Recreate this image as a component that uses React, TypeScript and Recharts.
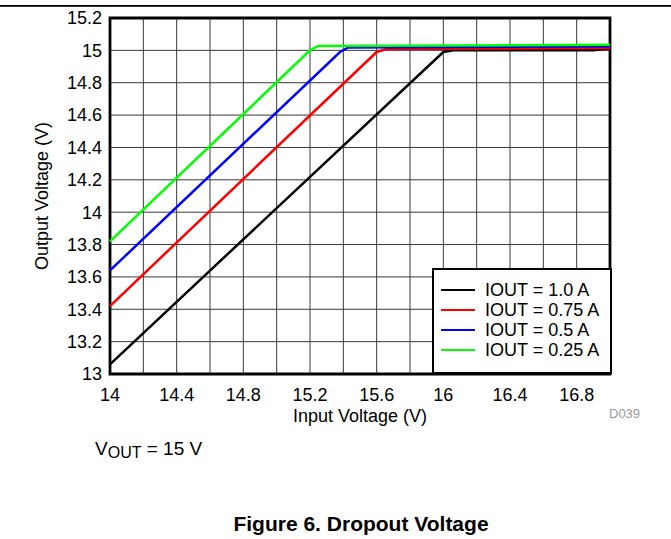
import { LineChart, Line, XAxis, YAxis, CartesianGrid, Legend, ReferenceArea, Label } from 'recharts'

const xTicks = [14, 14.2, 14.4, 14.6, 14.8, 15, 15.2, 15.4, 15.6, 15.8, 16, 16.2, 16.4, 16.6, 16.8, 17]
const xLabels = [14, 14.4, 14.8, 15.2, 15.6, 16, 16.4, 16.8]
const yTicks = [13, 13.2, 13.4, 13.6, 13.8, 14, 14.2, 14.4, 14.6, 14.8, 15, 15.2]

// input voltage (x) vs output voltage (y)
const iout100 = [
  { x: 14, y: 13.06 },
  { x: 16.0, y: 14.99 },
  { x: 16.06, y: 15.0 },
  { x: 16.9, y: 15.0 },
  { x: 17, y: 15.012 },
]
const iout075 = [
  { x: 14, y: 13.42 },
  { x: 15.6, y: 14.99 },
  { x: 15.66, y: 15.008 },
  { x: 17, y: 15.015 },
]
const iout050 = [
  { x: 14, y: 13.64 },
  { x: 15.38, y: 14.99 },
  { x: 15.43, y: 15.018 },
  { x: 17, y: 15.025 },
]
const iout025 = [
  { x: 14, y: 13.82 },
  { x: 15.2, y: 15.0 },
  { x: 15.25, y: 15.027 },
  { x: 17, y: 15.035 },
]

const series = [
  { name: 'IOUT = 1.0 A', color: '#000000', data: iout100 },
  { name: 'IOUT = 0.75 A', color: '#ff0000', data: iout075 },
  { name: 'IOUT = 0.5 A', color: '#0000ff', data: iout050 },
  { name: 'IOUT = 0.25 A', color: '#00ff00', data: iout025 },
]
const seriesOrder = series.map((s) => s.name)

const font = '"Liberation Sans", Arial, sans-serif'

function LegendBox({ payload }: any) {
  // keep the order the series were drawn in, not alphabetical
  const items = [...(payload || [])].sort(
    (a: any, b: any) => seriesOrder.indexOf(a.value) - seriesOrder.indexOf(b.value)
  )
  return (
    <div
      style={{
        border: '2px solid #000',
        background: '#fff',
        boxSizing: 'border-box',
        width: 180,
        height: 106,
        padding: '10px 0 0 7px',
        fontFamily: font,
        fontSize: 18,
        lineHeight: '20px',
        color: '#000',
      }}
    >
      {items.map((p: any) => (
        <div key={p.value} style={{ display: 'flex', alignItems: 'center', height: 20 }}>
          <span style={{ width: 34, height: 0, borderTop: `2.5px solid ${p.color}`, marginRight: 10 }} />
          <span>{p.value}</span>
        </div>
      ))}
    </div>
  )
}

export default function App() {
  return (
    <div style={{ position: 'absolute', left: 0, top: 0, width: 671, height: 539, background: '#fff' }}>
      <LineChart
        width={671}
        height={539}
        margin={{ top: 18, right: 61, bottom: 115, left: 10 }}
        style={{ fontFamily: font }}
      >
        <CartesianGrid stroke="#3a3a3a" strokeWidth={1} />
        <XAxis
          dataKey="x"
          type="number"
          domain={[14, 17]}
          ticks={xTicks}
          interval={0}
          tickFormatter={(v: number) => (xLabels.includes(v) ? String(v) : '')}
          tick={{ fill: '#000', fontSize: 18 }}
          tickLine={false}
          axisLine={false}
          tickMargin={8}
          height={50}
        >
          <Label value="Input Voltage (V)" position="insideBottom" offset={2} fill="#000" fontSize={18} />
        </XAxis>
        <YAxis
          type="number"
          domain={[13, 15.2]}
          ticks={yTicks}
          interval={0}
          tick={{ fill: '#000', fontSize: 18 }}
          tickLine={false}
          axisLine={false}
          width={100}
        >
          <Label
            value="Output Voltage (V)"
            angle={-90}
            position="insideLeft"
            offset={32}
            fill="#000"
            fontSize={18}
            style={{ textAnchor: 'middle' }}
          />
        </YAxis>
        {series.map((s) => (
          <Line
            key={s.name}
            data={s.data}
            dataKey="y"
            name={s.name}
            type="linear"
            stroke={s.color}
            strokeWidth={2.5}
            dot={false}
            isAnimationActive={false}
          />
        ))}
        <ReferenceArea x1={14} x2={17} y1={13} y2={15.2} fill="none" stroke="#000" strokeWidth={2.8} ifOverflow="visible" />
        <Legend
          layout="vertical"
          align="center"
          verticalAlign="middle"
          content={<LegendBox />}
          wrapperStyle={{ left: 432, top: 268, width: 180, height: 106 }}
        />
      </LineChart>
      <svg
        width={671}
        height={539}
        style={{ position: 'absolute', left: 0, top: 0, pointerEvents: 'none', fontFamily: font }}
      >
        <rect x={0} y={5} width={671} height={1.8} fill="#000" />
        <text x={609} y={418} fontSize={13} fill="#999">D039</text>
        <text x={95} y={455} fontSize={19} fill="#000">
          V<tspan fontSize={16} dy={3}>OUT</tspan>
          <tspan dy={-3}> = 15 V</tspan>
        </text>
        <text x={361} y={531} fontSize={21} fontWeight="bold" fill="#000" textAnchor="middle">
          Figure 6. Dropout Voltage
        </text>
      </svg>
    </div>
  )
}
